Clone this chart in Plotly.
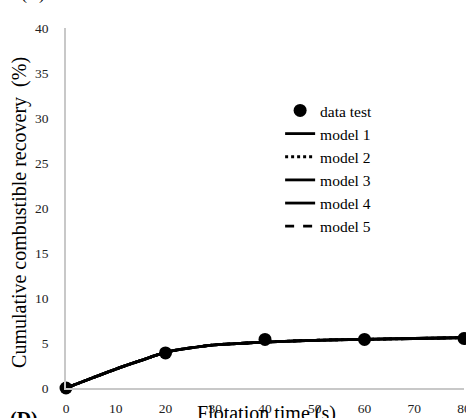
import plotly.graph_objects as go

time_data = [0, 20, 40, 60, 80]
recovery_data = [0.0, 3.9, 5.4, 5.4, 5.5]

time_model = [0, 5, 10, 15, 20, 25, 30, 35, 40, 50, 60, 70, 80]
model_1 = [0.0, 1.05, 2.1, 3.05, 3.95, 4.45, 4.8, 4.95, 5.1, 5.3, 5.4, 5.5, 5.6]
model_2 = [0.0, 1.05, 2.1, 3.05, 3.95, 4.45, 4.8, 4.95, 5.1, 5.3, 5.4, 5.5, 5.6]
model_3 = [0.0, 1.05, 2.1, 3.05, 3.95, 4.45, 4.8, 4.95, 5.1, 5.3, 5.4, 5.5, 5.6]
model_4 = [0.0, 1.05, 2.1, 3.05, 3.95, 4.45, 4.8, 4.95, 5.1, 5.3, 5.4, 5.5, 5.6]
model_5 = [0.0, 1.05, 2.1, 3.05, 3.95, 4.45, 4.8, 4.95, 5.1, 5.3, 5.4, 5.5, 5.6]

model_names = ["model 1", "model 2", "model 3", "model 4", "model 5"]
model_values = [model_1, model_2, model_3, model_4, model_5]
model_dash = ["solid", "dot", "solid", "solid", "dash"]

x_ticks = [0, 10, 20, 30, 40, 50, 60, 70, 80]
y_ticks = [0, 5, 10, 15, 20, 25, 30, 35, 40]

FONT = "Liberation Serif, Times New Roman, serif"

fig = go.Figure()
fig.add_trace(go.Scatter(
    x=time_data, y=recovery_data, mode="markers", name="data test",
    marker=dict(color="black", size=13, symbol="circle"),
    cliponaxis=False,
))
for name, vals, dash in zip(model_names, model_values, model_dash):
    fig.add_trace(go.Scatter(
        x=time_model, y=vals, mode="lines", name=name,
        line=dict(color="black", width=2.8, dash=dash, shape="spline"),
    ))

fig.update_layout(
    width=466, height=418,
    margin=dict(l=66, r=2, t=28, b=30),
    paper_bgcolor="white", plot_bgcolor="white",
    font=dict(family=FONT, color="#222", size=13),
    showlegend=True,
    legend=dict(
        x=0.538, y=0.817, xanchor="left", yanchor="top",
        font=dict(family=FONT, size=15.5, color="black"),
        bgcolor="rgba(0,0,0,0)", tracegroupgap=0, itemwidth=30,
    ),
    xaxis=dict(
        range=[0, 80], tickvals=x_ticks, showgrid=False, zeroline=False,
        showline=True, linecolor="#c8c8c8", linewidth=1.5, automargin=False,
        ticks="", ticklabelstandoff=7, ticklabeloverflow="allow",
        tickfont=dict(family=FONT, size=13.5, color="#222"),
    ),
    yaxis=dict(
        range=[0, 40], tickvals=y_ticks, showgrid=False, zeroline=False,
        showline=True, linecolor="#c8c8c8", linewidth=1.5, automargin=False,
        ticks="", ticklabelstandoff=13,
        tickfont=dict(family=FONT, size=13.5, color="#222"),
    ),
    annotations=[
        dict(text="Flotation time (s)", x=0.504, y=-0.034, xref="paper", yref="paper",
             xanchor="center", yanchor="top", showarrow=False,
             font=dict(family=FONT, size=20, color="black")),
        dict(text="Cumulative combustible recovery  (%)", x=-0.1156, y=0.489,
             xref="paper", yref="paper", textangle=-90,
             xanchor="center", yanchor="middle", showarrow=False,
             font=dict(family=FONT, size=20, color="black")),
        dict(text="<b>(D)</b>", x=-0.1055, y=-0.05, xref="paper", yref="paper",
             xanchor="center", yanchor="top", showarrow=False,
             font=dict(family=FONT, size=20, color="black")),
        dict(text="(C)", x=-0.083, y=1.061, xref="paper", yref="paper",
             xanchor="center", yanchor="bottom", showarrow=False,
             font=dict(family=FONT, size=18, color="black")),
    ],
)

fig.write_html("out.html", config={"displayModeBar": False},
               post_script="document.body.style.margin='0px';")
